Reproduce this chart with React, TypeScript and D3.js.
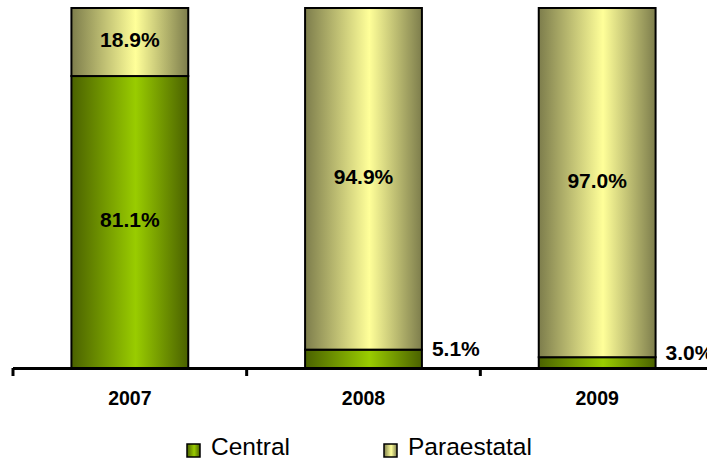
import React from "react";
import * as d3 from "d3";

const categories = ["2007", "2008", "2009"];
const central = [81.1, 5.1, 3.0];
const paraestatal = [18.9, 94.9, 97.0];
const seriesNames = ["Central", "Paraestatal"];

const W = 707;
const H = 460;

export default function App() {
  const x = d3.scaleBand<string>().domain(categories).range([13, 714]).paddingInner(0).paddingOuter(0);
  const y = d3.scaleLinear().domain([0, 100]).range([368, 8]);
  const barW = x.bandwidth() * 0.5;

  const rows = categories.map((c, i) => ({ cat: c, Central: central[i], Paraestatal: paraestatal[i] }));
  const stack = d3.stack<any>().keys(seriesNames)(rows);

  const fills = ["url(#gGreen)", "url(#gYellow)"];
  const font = "Arial, 'Liberation Sans', sans-serif";

  return (
    <svg width={W} height={H} style={{ display: "block", position: "absolute", left: 0, top: 0 }}>
      <defs>
        <linearGradient id="gGreen" x1="0" x2="1" y1="0" y2="0">
          <stop offset="0" stopColor="#4a6100" />
          <stop offset="0.55" stopColor="#99cc00" />
          <stop offset="1" stopColor="#4a6100" />
        </linearGradient>
        <linearGradient id="gYellow" x1="0" x2="1" y1="0" y2="0">
          <stop offset="0" stopColor="#7d7d4c" />
          <stop offset="0.55" stopColor="#ffff99" />
          <stop offset="1" stopColor="#7d7d4c" />
        </linearGradient>
      </defs>
      <rect width={W} height={H} fill="#fff" />
      {stack.map((s, si) =>
        s.map((d, i) => {
          const cx = (x(categories[i]) as number) + x.bandwidth() / 2;
          const y0 = y(d[0]);
          const y1 = y(d[1]);
          const v = d[1] - d[0];
          const h = y0 - y1;
          const big = h > 30;
          return (
            <g key={`${si}-${i}`}>
              <rect x={cx - barW / 2} y={y1} width={barW} height={h} fill={fills[si]} stroke="#000" strokeWidth={2} />
              <text
                x={big ? cx : cx + barW / 2 + 10}
                y={big ? (y0 + y1) / 2 - 2 : (y0 + y1) / 2 - 10}
                dy="0.35em"
                textAnchor={big ? "middle" : "start"}
                fontFamily={font}
                fontWeight="bold"
                fontSize={21}
                fill="#000"
              >
                {v.toFixed(1)}%
              </text>
            </g>
          );
        })
      )}
      <line x1={13} x2={W} y1={368.5} y2={368.5} stroke="#000" strokeWidth={3} />
      {[...categories.map((c) => x(c) as number), 714].map((t, i) => (
        <line key={i} x1={t} x2={t} y1={368} y2={376} stroke="#000" strokeWidth={3} />
      ))}
      {categories.map((c) => (
        <text
          key={c}
          x={(x(c) as number) + x.bandwidth() / 2}
          y={405}
          textAnchor="middle"
          fontFamily={font}
          fontWeight="bold"
          fontSize={19.5}
        >
          {c}
        </text>
      ))}
      {seriesNames.map((n, i) => {
        const lx = [187, 384][i];
        return (
          <g key={n}>
            <rect x={lx} y={444} width={13} height={13} fill={fills[i]} stroke="#000" strokeWidth={1.5} />
            <text x={lx + 24} y={455} fontFamily={font} fontSize={24.5} fill="#000">
              {n}
            </text>
          </g>
        );
      })}
    </svg>
  );
}
